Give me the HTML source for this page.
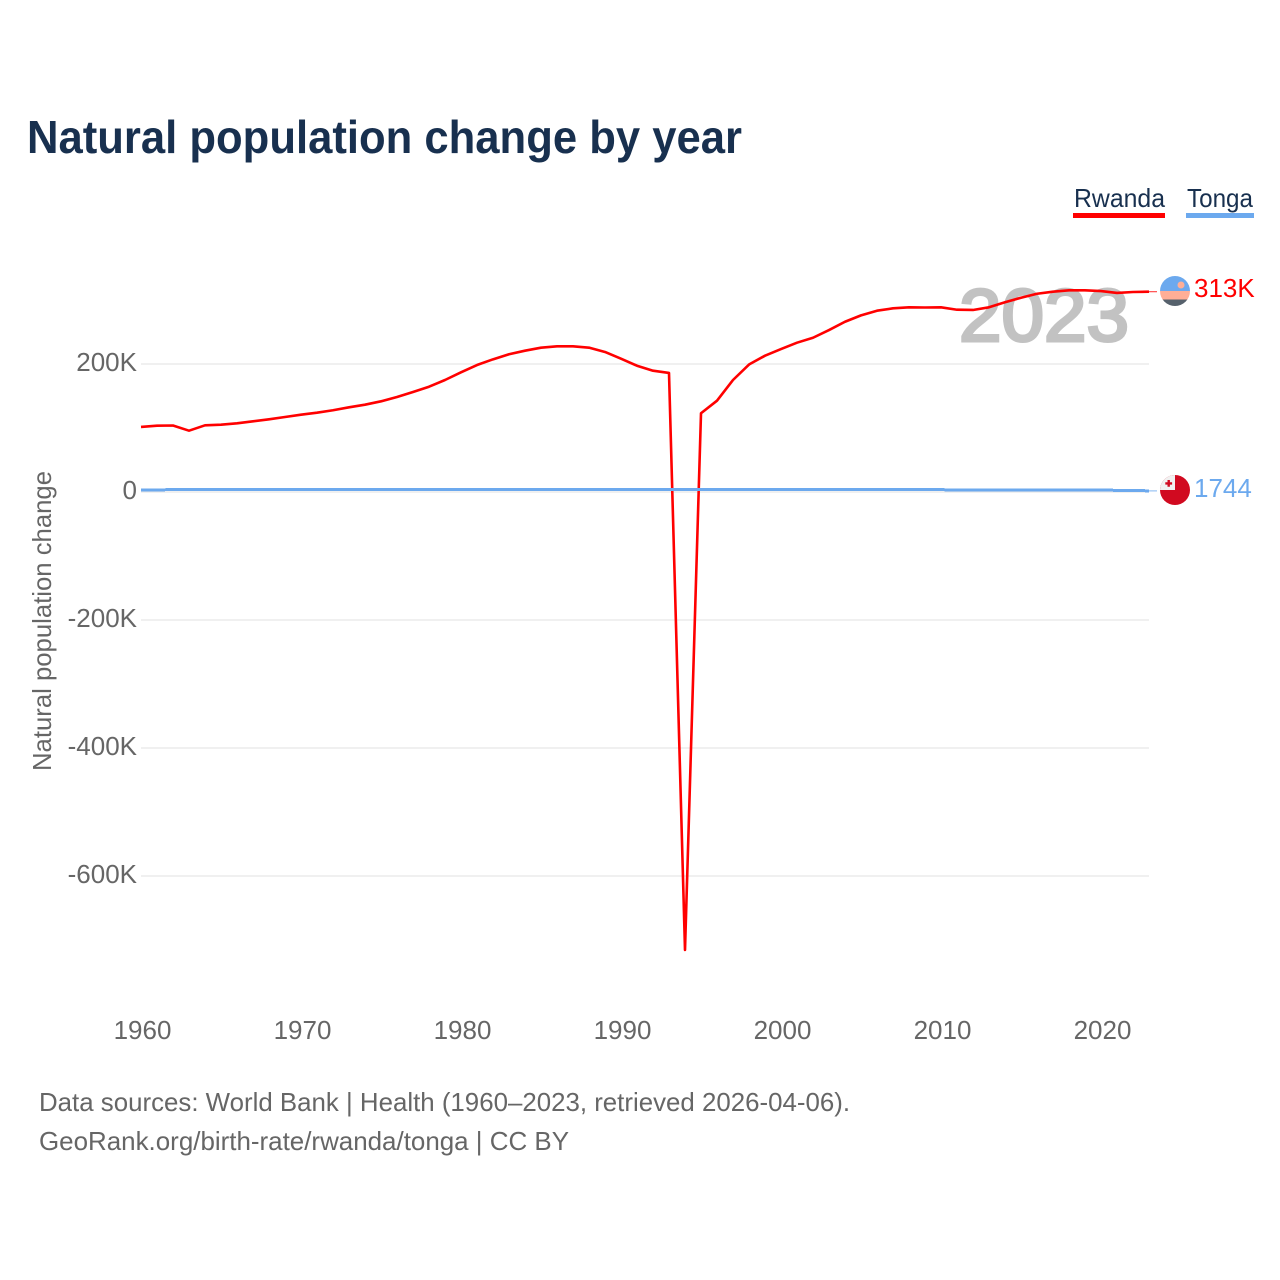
<!DOCTYPE html>
<html lang="en">
<head>
<meta charset="utf-8">
<title>Natural population change by year</title>
<style>
html,body{margin:0;padding:0;background:#fff;}
svg{display:block;font-family:"Liberation Sans",sans-serif;}
</style>
</head>
<body>
<svg id="chart" width="1280" height="1280" viewBox="0 0 1280 1280" xmlns="http://www.w3.org/2000/svg">
  <defs>
    <clipPath id="flag-clip-a"><circle id="flag-clip-a-circle" cx="1175" cy="291" r="15"/></clipPath>
    <clipPath id="flag-clip-b"><circle id="flag-clip-b-circle" cx="1175" cy="490" r="15"/></clipPath>
  </defs>
  <text x="27" y="153" font-size="46" font-weight="700" fill="#18304f" textLength="715" lengthAdjust="spacingAndGlyphs">Natural population change by year</text>

  <g>
    <text x="1074" y="207" font-size="26" fill="#18304f" textLength="91" lengthAdjust="spacingAndGlyphs">Rwanda</text>
    <rect x="1073" y="213" width="92" height="5" fill="#ff0000"/>
  </g>
  <g>
    <text x="1187" y="207" font-size="26" fill="#18304f" textLength="66" lengthAdjust="spacingAndGlyphs">Tonga</text>
    <rect x="1186" y="213" width="68" height="5" fill="#6ca9ee"/>
  </g>

  <text x="959" y="341" font-size="74" fill="#c2c2c2" stroke="#c2c2c2" stroke-width="3" textLength="170" lengthAdjust="spacingAndGlyphs">2023</text>

  <g id="grid"></g>
  <g id="y-labels"></g>
  <g id="x-labels"></g>
  <g id="series"></g>

  <g id="flag-rwanda" clip-path="url(#flag-clip-a)">
    <rect x="1160" y="276" width="30" height="15" fill="#6ca9ee"/>
    <rect x="1160" y="291" width="30" height="8.5" fill="#ffae96"/>
    <rect x="1160" y="299.5" width="30" height="7" fill="#56616c"/>
    <circle cx="1181" cy="285" r="3.5" fill="#ffae96"/>
  </g>
  <g id="flag-tonga" clip-path="url(#flag-clip-b)">
    <rect x="1160" y="475" width="30" height="30" fill="#d10a20"/>
    <rect x="1160" y="475" width="15" height="15" fill="#f1f1f1"/>
    <path d="M1167.5 480h2.4v2.2h2.2v2.4h-2.2v2.2h-2.4v-2.2h-2.2v-2.4h2.2z" fill="#d10a20"/>
  </g>
  <g id="end-labels"></g>

  <text transform="translate(51 771) rotate(-90)" font-size="26" fill="#666666" textLength="300" lengthAdjust="spacingAndGlyphs">Natural population change</text>

  <text x="39" y="1111" font-size="26" fill="#666666" textLength="811" lengthAdjust="spacingAndGlyphs">Data sources: World Bank | Health (1960–2023, retrieved 2026-04-06).</text>
  <text x="39" y="1150" font-size="26" fill="#666666" textLength="530" lengthAdjust="spacingAndGlyphs">GeoRank.org/birth-rate/rwanda/tonga | CC BY</text>
</svg>
<script>
const firstYear = 1960;
const rwandaValues = [
  101600,103600,103900,95800,104200,105200,107300,110500,113600,117200,
  120800,123900,127700,132300,136400,141700,148400,156300,164500,175000,
  187000,198400,207300,215200,220800,225500,227700,227700,225500,218800,
  208300,197300,189500,186000,-715600,123000,142700,175000,199200,213000,
  223400,233300,241000,253000,266000,276000,283300,287000,288600,288300,
  288600,284800,284400,288600,296400,303600,309800,313000,315200,315200,
  314000,311000,312500,313000
];
const tongaValues = [
  3200,3200,3800,3800,3900,3900,3900,3900,3900,3900,
  3900,3900,3900,3900,3900,3900,3900,3900,3900,3900,
  3800,3800,3800,3800,3800,3800,3800,3800,3800,3800,
  3800,3800,3800,3800,3800,3800,3800,3800,3800,3800,
  3800,3800,3800,3800,3800,3800,3800,3800,3800,3800,
  3600,3200,3100,3000,3000,3000,3000,3000,2900,2900,
  2800,2700,2500,1744
];
const yTickValues = [200000,0,-200000,-400000,-600000];
const yTickLabels = ['200K','0','-200K','-400K','-600K'];
const xTickYears = [1960,1970,1980,1990,2000,2010,2020];

const NS = 'http://www.w3.org/2000/svg';
const xScale = function (year) { return 141 + 16 * (year - 1960); };
const yScale = function (value) { return 492 - 0.00064 * value; };
const formatEnd = function (v) { return Math.abs(v) >= 10000 ? Math.round(v / 1000) + 'K' : String(v); };
const make = function (tag, parent) {
  const el = document.createElementNS(NS, tag);
  parent.appendChild(el);
  return el;
};

const grid = document.getElementById('grid');
const yLabels = document.getElementById('y-labels');
const xLabels = document.getElementById('x-labels');
const series = document.getElementById('series');
const endLabels = document.getElementById('end-labels');

yTickValues.forEach(function (v, i) {
  const line = make('line', grid);
  
  
  line.setAttribute('x1', 141);
  line.setAttribute('x2', 1149);
  line.setAttribute('y1', yScale(v));
  line.setAttribute('y2', yScale(v));
  line.setAttribute('stroke', '#e8e8e8');
  line.setAttribute('stroke-width', '1.3');
  const label = make('text', yLabels);
  
  
  label.setAttribute('x', 137);
  label.setAttribute('y', yScale(v) + 7);
  label.setAttribute('text-anchor', 'end');
  label.setAttribute('font-size', '26');
  label.setAttribute('fill', '#666666');
  label.textContent = yTickLabels[i];
});

xTickYears.forEach(function (year) {
  const label = make('text', xLabels);
  
  
  label.setAttribute('x', xScale(year) + 1.5);
  label.setAttribute('y', 1039);
  label.setAttribute('text-anchor', 'middle');
  label.setAttribute('font-size', '26');
  label.setAttribute('fill', '#666666');
  label.textContent = String(year);
});

const drawSeries = function (values, color, lineName, connectorName, width, rendering) {
  const pts = values.map(function (v, i) {
    return xScale(firstYear + i).toFixed(2) + ',' + yScale(v).toFixed(2);
  }).join(' ');
  const lastX = xScale(firstYear + values.length - 1);
  const lastY = yScale(values[values.length - 1]);
  const conn = make('line', series);
  
  
  conn.setAttribute('x1', lastX);
  conn.setAttribute('x2', lastX + 8);
  conn.setAttribute('y1', lastY);
  conn.setAttribute('y2', lastY);
  conn.setAttribute('stroke', color);
  conn.setAttribute('stroke-width', '1.2');
  conn.setAttribute('stroke-opacity', '0.7');
  const line = make('polyline', series);
  
  
  line.setAttribute('points', pts);
  line.setAttribute('fill', 'none');
  line.setAttribute('stroke', color);
  line.setAttribute('stroke-width', width);
  line.setAttribute('stroke-linejoin', 'round');
  line.setAttribute('shape-rendering', rendering);
};
drawSeries(rwandaValues, '#ff0000', 'line-rwanda', 'connector-rwanda', '2.6', 'auto');
drawSeries(tongaValues, '#6ca9ee', 'line-tonga', 'connector-tonga', '3', 'crispEdges');

const rwandaLast = rwandaValues[rwandaValues.length - 1];
const tongaLast = tongaValues[tongaValues.length - 1];

const rwandaLabel = make('text', endLabels);


rwandaLabel.setAttribute('x', 1194);
rwandaLabel.setAttribute('y', yScale(rwandaLast) + 5.3);
rwandaLabel.setAttribute('font-size', '26');
rwandaLabel.setAttribute('fill', '#ff0000');
rwandaLabel.textContent = formatEnd(rwandaLast);

const tongaLabel = make('text', endLabels);


tongaLabel.setAttribute('x', 1194);
tongaLabel.setAttribute('y', yScale(tongaLast) + 6.3);
tongaLabel.setAttribute('font-size', '26');
tongaLabel.setAttribute('fill', '#6ca9ee');
tongaLabel.textContent = formatEnd(tongaLast);
</script>
</body>
</html>
